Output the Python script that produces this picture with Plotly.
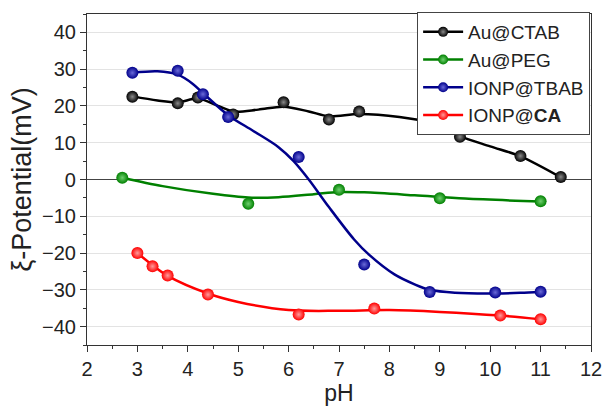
import plotly.graph_objects as go

# ---- measured points ----
ph_ctab = [2.9, 3.8, 4.2, 4.9, 5.9, 6.8, 7.4, 8.9, 9.4, 10.6, 11.4]
zp_ctab = [22.5, 20.7, 22.3, 17.7, 21.0, 16.3, 18.5, 15.8, 11.6, 6.4, 0.7]

ph_peg = [2.7, 5.2, 7.0, 9.0, 11.0]
zp_peg = [0.5, -6.6, -2.8, -5.1, -5.9]

ph_tbab = [2.9, 3.8, 4.3, 4.8, 6.2, 7.5, 8.8, 10.1, 11.0]
zp_tbab = [29.0, 29.6, 23.2, 17.0, 6.1, -23.1, -30.6, -30.7, -30.5]

ph_ca = [3.0, 3.3, 3.6, 4.4, 6.2, 7.7, 10.2, 11.0]
zp_ca = [-20.0, -23.6, -26.1, -31.3, -36.7, -35.1, -37.0, -38.0]

# ---- fitted guide curves ----
fit_ph_ctab = [2.9, 3.4, 3.8, 4.2, 4.6, 4.9, 5.4, 5.9, 6.4, 6.8, 7.4, 8.2, 8.9, 9.4, 10.0, 10.6, 11.4]
fit_zp_ctab = [22.6, 21.5, 21.0, 22.0, 20.0, 18.5, 19.0, 19.8, 18.5, 17.2, 17.8, 17.0, 15.2, 11.8, 9.0, 6.3, 0.6]

fit_ph_peg = [2.7, 3.5, 4.5, 5.2, 5.8, 6.5, 7.0, 7.5, 8.5, 9.5, 11.0]
fit_zp_peg = [0.5, -1.8, -3.9, -4.9, -4.8, -4.0, -3.4, -3.5, -4.3, -5.2, -6.0]

fit_ph_tbab = [2.9, 3.4, 3.8, 4.1, 4.3, 4.8, 5.3, 5.8, 6.1, 6.4, 6.8, 7.3, 7.6, 8.1, 8.5, 8.8, 9.3, 10.1, 10.6, 11.0]
fit_zp_tbab = [29.0, 29.4, 28.5, 26.0, 23.5, 17.5, 13.2, 8.8, 5.0, 0.0, -7.5, -16.3, -20.5, -25.8, -28.5, -30.0, -30.8, -31.0, -30.8, -30.5]

fit_ph_ca = [3.0, 3.3, 3.6, 4.4, 5.0, 6.0, 7.0, 8.0, 9.0, 10.2, 11.0]
fit_zp_ca = [-20.0, -23.3, -26.2, -31.0, -33.3, -35.5, -35.7, -35.5, -36.0, -37.0, -38.0]

names = ["Au@CTAB", "Au@PEG", "IONP@TBAB", "IONP@<b>CA</b>"]
colors = ["#000000", "#008000", "#00008b", "#ff0000"]
highlights = ["#8a8a8a", "#6fd06f", "#6a6ad8", "#ff9a9a"]

series = [
    (ph_ctab, zp_ctab, fit_ph_ctab, fit_zp_ctab),
    (ph_peg, zp_peg, fit_ph_peg, fit_zp_peg),
    (ph_tbab, zp_tbab, fit_ph_tbab, fit_zp_tbab),
    (ph_ca, zp_ca, fit_ph_ca, fit_zp_ca),
]

fig = go.Figure()
for (px, py, fx, fy), name, col, hl in zip(series, names, colors, highlights):
    mk = dict(size=12, color=col, gradient=dict(type="radial", color=hl),
              line=dict(width=0))
    fig.add_trace(go.Scatter(x=fx, y=fy, mode="lines",
                             line=dict(color=col, width=2.5, shape="spline", smoothing=0.9),
                             showlegend=False, hoverinfo="skip"))
    fig.add_trace(go.Scatter(x=px, y=py, mode="markers", marker=mk, showlegend=False, name=name))
    fig.add_trace(go.Scatter(x=[None], y=[None], mode="lines+markers", name=name,
                             line=dict(color=col, width=2.5),
                             marker=dict(size=10, color=col, gradient=dict(type="radial", color=hl))))

axis_font = dict(family="Liberation Sans, Arial, sans-serif", size=20, color="#222")
fig.update_layout(
    width=614, height=408,
    margin=dict(l=87, r=15, t=14, b=63),
    paper_bgcolor="white", plot_bgcolor="white",
    font=dict(family="Liberation Sans, Arial, sans-serif", color="#222"),
    showlegend=True,
    legend=dict(x=0.655, y=1.006, xanchor="left", yanchor="top",
                bgcolor="white", bordercolor="#444", borderwidth=1,
                font=dict(size=19, color="#222"), tracegroupgap=0,
                itemwidth=40),
    xaxis=dict(range=[2, 12], dtick=1, tick0=2, ticks="outside", ticklen=6, tickwidth=1.2,
               tickcolor="#333", showgrid=False, showline=True, linecolor="#333",
               linewidth=1.2, mirror=True, zeroline=False, tickfont=axis_font,
               minor=dict(dtick=0.5, ticks="outside", ticklen=3, tickcolor="#333", showgrid=False),
               title=dict(text="pH", font=dict(size=23, color="#222"), standoff=0)),
    yaxis=dict(range=[-45, 45], tickvals=[-40, -30, -20, -10, 0, 10, 20, 30, 40],
               ticks="outside", ticklen=6, tickwidth=1.2, tickcolor="#333",
               showgrid=True, gridcolor="#e3e3e3", gridwidth=1,
               showline=True, linecolor="#333", linewidth=1.2, mirror=True,
               zeroline=True, zerolinecolor="#444", zerolinewidth=1,
               tickfont=axis_font,
               minor=dict(dtick=5, ticks="outside", ticklen=3, tickcolor="#333", showgrid=False),
               title=dict(text="ξ-Potential(mV)", font=dict(size=27, color="#222"), standoff=2)),
)

fig.write_html("out.html")
